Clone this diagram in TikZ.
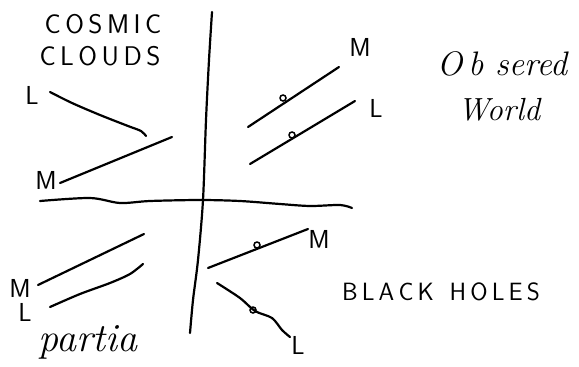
\documentclass[tikz,border=0pt]{standalone}
\usepackage{tikz}
\usetikzlibrary{positioning}

\begin{document}
\begin{tikzpicture}[x=1pt,y=-1pt,
    stroke/.style={line width=2.2pt,line cap=round,line join=round},
    lbl/.style={font=\sffamily\fontsize{26}{26}\selectfont,inner sep=0pt},
    title/.style={font=\sffamily\fontsize{27}{27}\selectfont,inner sep=0pt},
    script/.style={font=\itshape\fontsize{34}{34}\selectfont,inner sep=0pt},
    dotmark/.style={circle,draw,line width=1.5pt,minimum size=6pt,inner sep=0pt}]
    \useasboundingbox (0,0) rectangle (579,367);

    \draw[stroke] plot[smooth] coordinates {(212,12) (209,60) (206,120) (203,200) (198,260) (193,300) (190,333)};
    \draw[stroke] plot[smooth] coordinates {(40,201) (90,198) (120,203) (150,201) (200,200) (240,201) (280,204) (310,206) (340,205) (352,208)};

    \node[title] (cosmic) at (103,24) {C\,O\,S\,M\,I\,C};
    \node[title] (clouds) at (100,56) {C\,L\,O\,U\,D\,S};
    \node[lbl] (ltl) at (32,95) {L};
    \draw[stroke] plot[smooth] coordinates {(50,92) (72,103) (100,115) (128,126) (141,131) (146,136)};
    \node[lbl] (mtl) at (46,180) {M};
    \draw[stroke] (60,183) -- (172,137);

    \draw[stroke] (248,127) -- (339,67);
    \node[dotmark] (dmtr) at (283,98) {};
    \node[lbl] (mtr) at (360,47) {M};
    \draw[stroke] (250,164) -- (355,101);
    \node[dotmark] (dltr) at (292,135) {};
    \node[lbl] (ltr) at (376,108) {L};
    \node[script] (observed) at (502,64) {O\,b sered};
    \node[script,font=\itshape\fontsize{32}{32}\selectfont] (world) at (499,110) {World};

    \node[lbl] (mbl) at (20,288) {M};
    \draw[stroke] (38,285) -- (144,234);
    \node[lbl] (lbl) at (25,312) {L};
    \draw[stroke] plot[smooth] coordinates {(50,307) (80,294) (110,283) (130,274) (143,264)};
    \node[script,font=\itshape\fontsize{40}{40}\selectfont] (partia) at (88,342) {partia};

    \draw[stroke] (208,268) -- (308,229);
    \node[dotmark] (dmbr) at (257,245) {};
    \node[lbl] (mbr) at (319,239) {M};
    \draw[stroke] plot[smooth] coordinates {(217,283) (240,298) (255,311) (272,318) (282,330) (290,337)};
    \node[dotmark] (dlbr) at (253,310) {};
    \node[lbl] (lbr) at (298,345) {L};
    \node[title,font=\sffamily\fontsize{25}{25}\selectfont] (black) at (441,292) {B\,L\,A\,C\,K \ H\,O\,L\,E\,S};
\end{tikzpicture}
\end{document}
